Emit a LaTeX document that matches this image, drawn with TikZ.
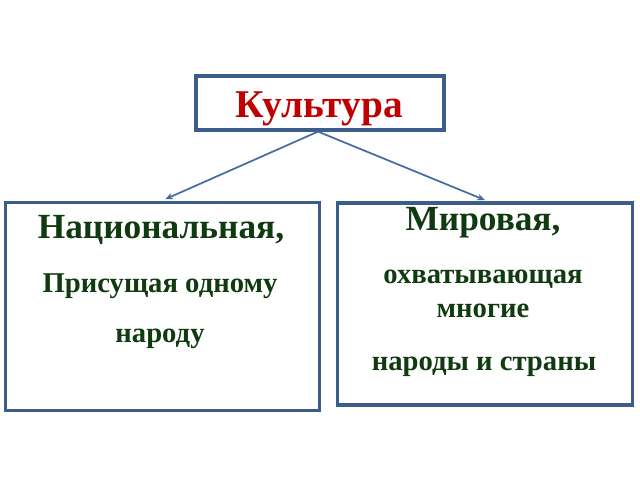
\documentclass[tikz,border=0pt]{standalone}
\usepackage{fontspec}
\setmainfont{Liberation Serif}
\usetikzlibrary{positioning,arrows.meta}
\definecolor{boxblue}{RGB}{60,92,140}
\definecolor{lineblue}{RGB}{70,108,160}
\definecolor{titlered}{RGB}{192,0,0}
\definecolor{textgreen}{RGB}{16,58,16}
\begin{document}
\begin{tikzpicture}[
                    x=0.75pt,y=-0.75pt,
                    >={Stealth[length=6pt,width=5pt]},
                    frame/.style={rectangle,draw=boxblue,line width=2.4pt,inner sep=0pt},
                    head/.style={anchor=base,font=\bfseries\fontsize{26.5}{30}\selectfont,text=textgreen},
                    sub/.style={anchor=base,font=\bfseries\fontsize{21.5}{24}\selectfont,text=textgreen}
                ]
                \useasboundingbox (0,0) rectangle (640,480);
                % Blocks
                \node [frame,minimum width=186pt,minimum height=40.5pt] (top) at (320,103) {};
                \node [anchor=base,font=\bfseries\fontsize{29.5}{32}\selectfont,text=titlered] (topt) at (319,117) {Культура};
                \node [frame,minimum width=236pt,minimum height=156.5pt] (nat) at (162.5,306.5) {};
                \node [frame,minimum width=221pt,minimum height=151.5pt] (world) at (485,304) {};
                % Texts
                \node [head] (natA) at (161,238) {Национальная,};
                \node [sub] (natB) at (160,292) {Присущая одному};
                \node [sub] (natC) at (160,342) {народу};
                \node [head] (worldA) at (483,230) {Мировая,};
                \node [sub] (worldB) at (483,283) {охватывающая};
                \node [sub] (worldC) at (483,317) {многие};
                \node [sub] (worldD) at (484,370) {народы и страны};

                % Connections
                \draw [->,draw=lineblue,line width=1.3pt] ([xshift=-1.5pt]top.south) -- ([xshift=2pt,yshift=1pt]nat.north);
                \draw [->,draw=lineblue,line width=1.3pt] ([xshift=-1.5pt]top.south) -- ([yshift=1pt]world.north);
            \end{tikzpicture}
\end{document}
